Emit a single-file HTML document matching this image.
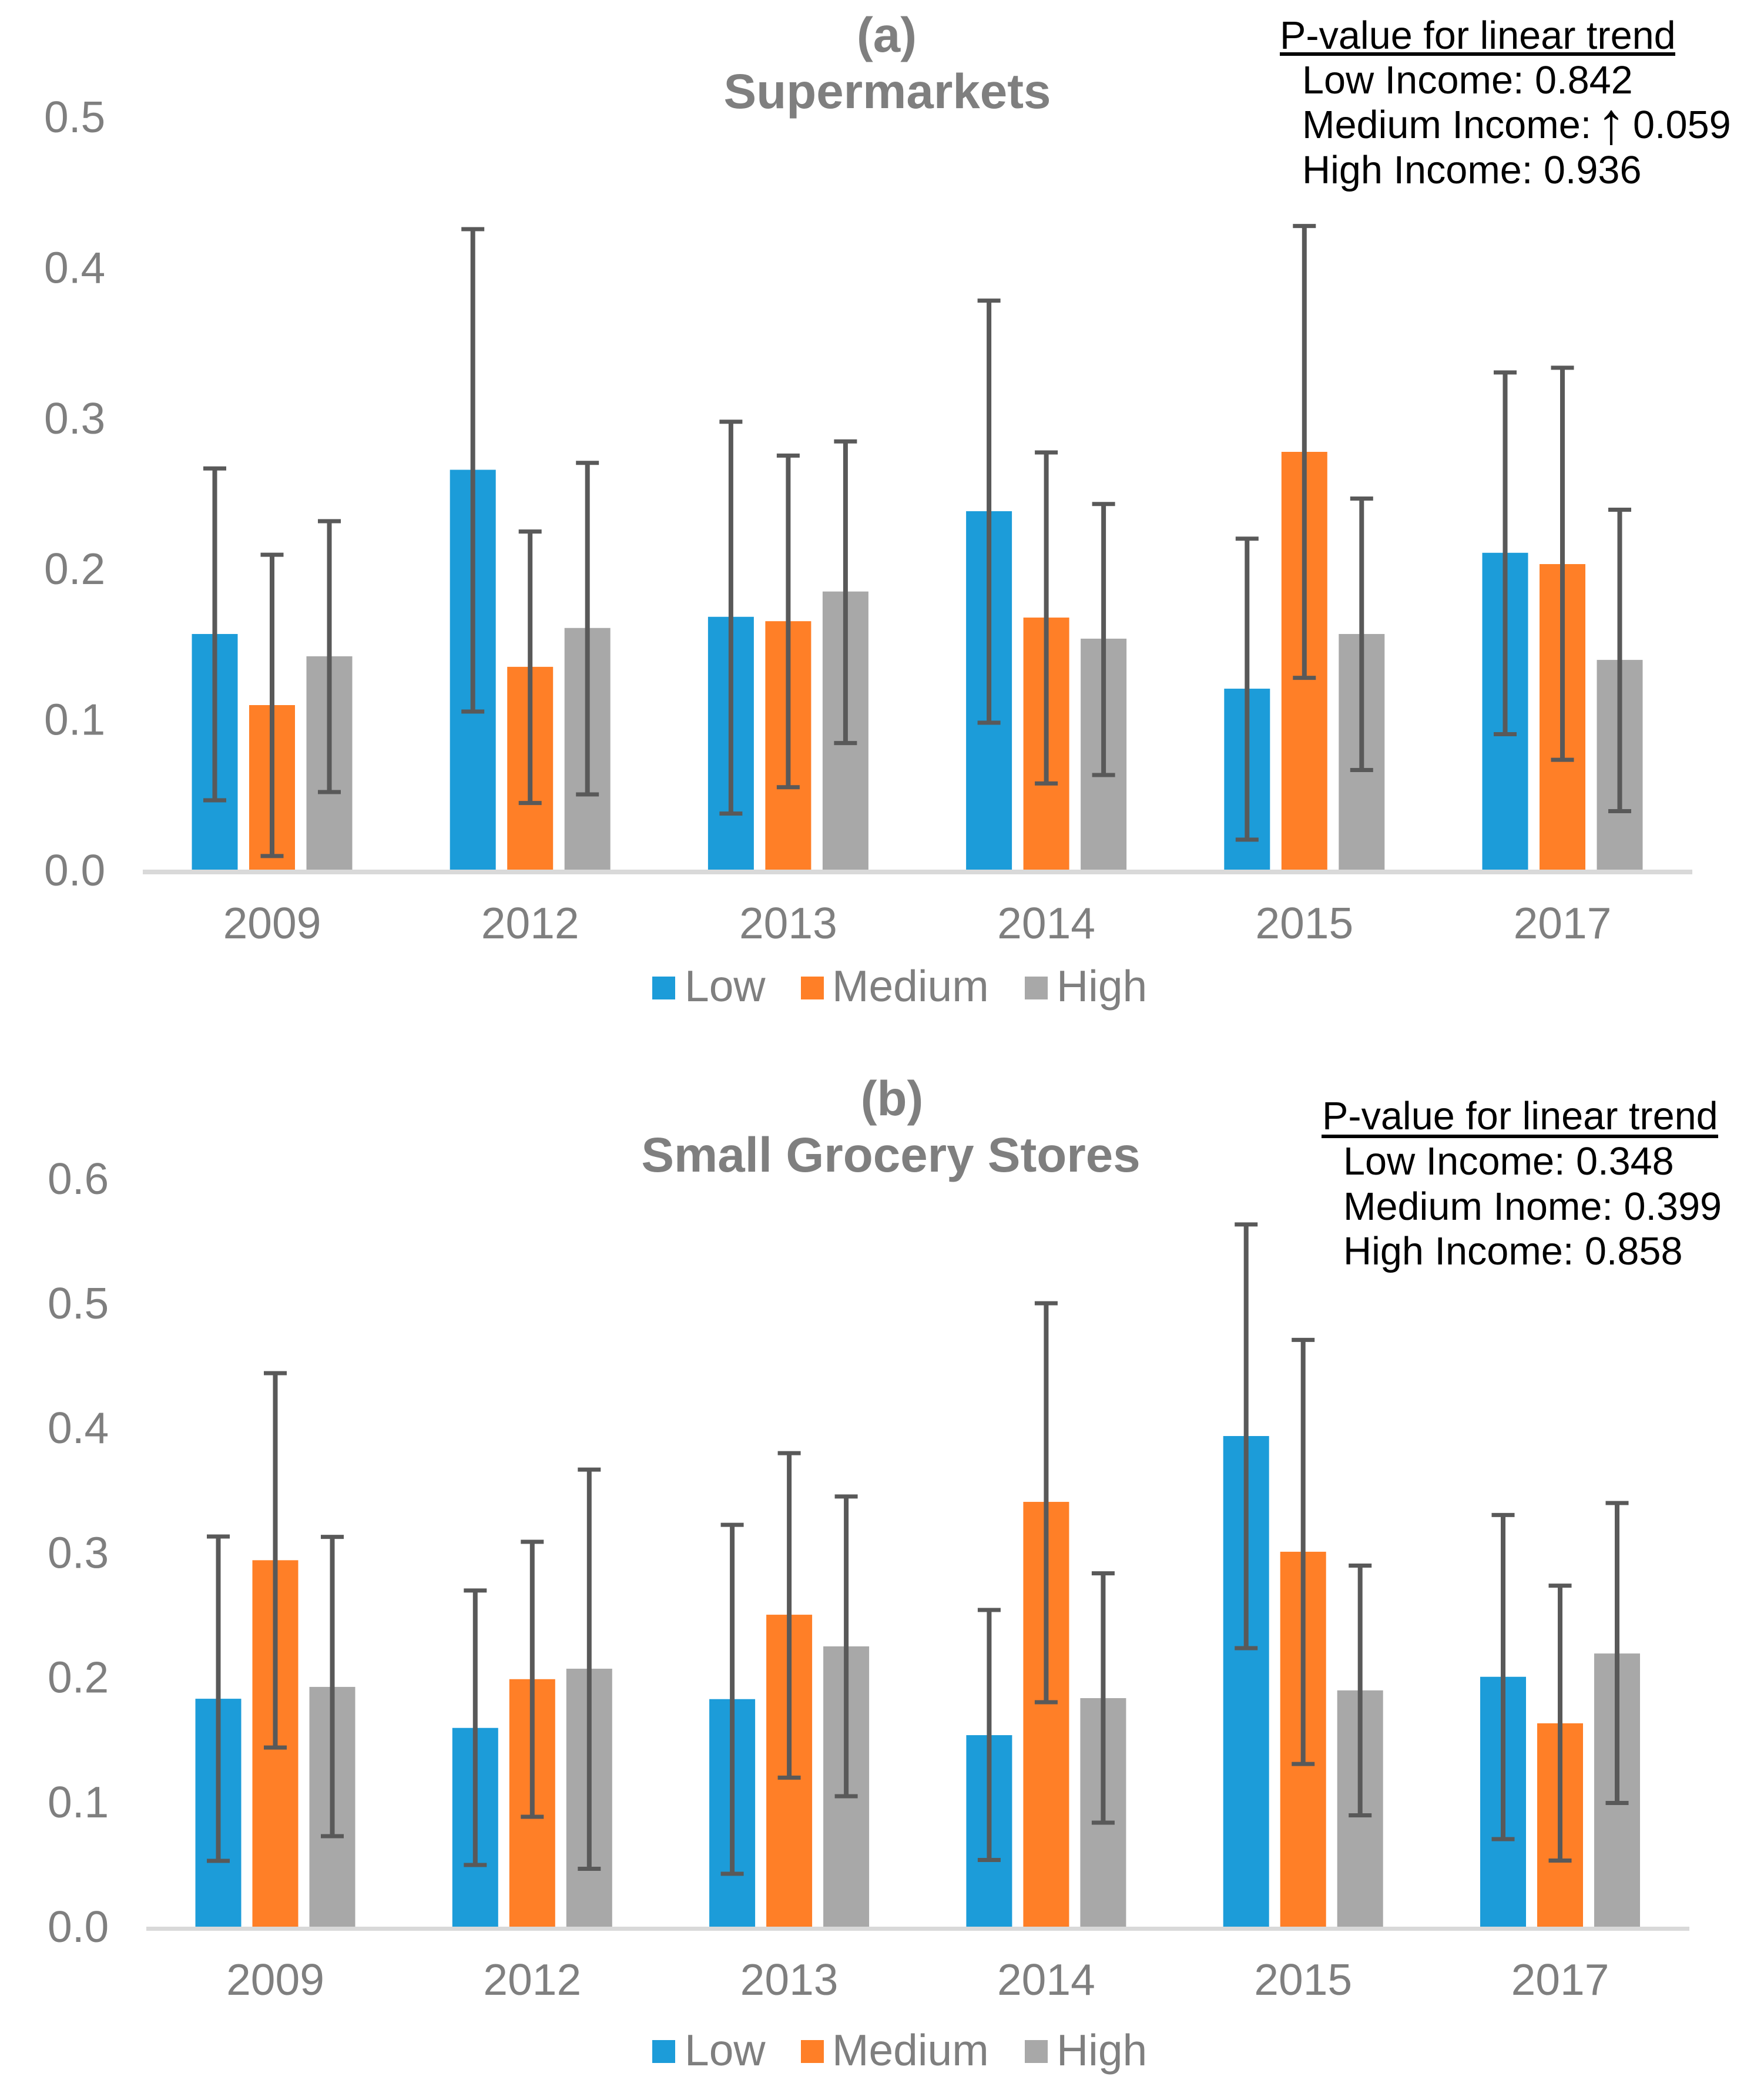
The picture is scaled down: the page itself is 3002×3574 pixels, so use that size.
<!DOCTYPE html>
<html lang="en">
<head>
<meta charset="utf-8">
<title>Supermarkets and Small Grocery Stores by income</title>
<style>
html,body{margin:0;padding:0;background:#fff;}
svg{display:block;font-family:"Liberation Sans",Arial,sans-serif;}
.tick{font-size:75px;fill:#7f7f7f;}
.title{font-size:83.5px;font-weight:bold;fill:#7f7f7f;text-anchor:middle;}
.note{font-size:66.6px;fill:#000;}
</style>
</head>
<body>
<svg id="figure" xmlns="http://www.w3.org/2000/svg" width="3002" height="3574" viewBox="0 0 3002 3574">
  <rect x="0" y="0" width="3002" height="3574" fill="#fff"/>

  <g id="panel-a">
    <text class="title" x="1509" y="88">(a)</text>
    <text class="title" x="1510" y="184">Supermarkets</text>
    <g>
      <text class="note" x="2178" y="83">P-value for linear trend</text>
      <rect x="2178" y="89" width="673" height="6" fill="#000"/>
      <text class="note" x="2216" y="159">Low Income: 0.842</text>
      <text class="note" x="2216" y="235">Medium Income:</text>
      <text class="note" x="2742" y="244" text-anchor="middle" style="font-size:100px">↑</text>
      <text class="note" x="2779" y="235">0.059</text>
      <text class="note" x="2216" y="312">High Income: 0.936</text>
    </g>
    <g>
      <rect x="1110" y="1662" width="39" height="39" fill="#1c9cd9"/>
      <text class="tick" x="1165" y="1704">Low</text>
      <rect x="1363" y="1662" width="39" height="39" fill="#ff7f27"/>
      <text class="tick" x="1416" y="1704">Medium</text>
      <rect x="1744" y="1662" width="39" height="39" fill="#a8a8a8"/>
      <text class="tick" x="1798" y="1704">High</text>
    </g>
  </g>

  <g id="panel-b">
    <text class="title" x="1518" y="1898">(b)</text>
    <text class="title" x="1516" y="1994">Small Grocery Stores</text>
    <g>
      <text class="note" x="2250" y="1922">P-value for linear trend</text>
      <rect x="2249" y="1931" width="675" height="6" fill="#000"/>
      <text class="note" x="2286" y="1999">Low Income: 0.348</text>
      <text class="note" x="2286" y="2076">Medium Inome: 0.399</text>
      <text class="note" x="2286" y="2152">High Income: 0.858</text>
    </g>
    <g>
      <rect x="1110" y="3472" width="39" height="39" fill="#1c9cd9"/>
      <text class="tick" x="1165" y="3515">Low</text>
      <rect x="1363" y="3472" width="39" height="39" fill="#ff7f27"/>
      <text class="tick" x="1416" y="3515">Medium</text>
      <rect x="1744" y="3472" width="39" height="39" fill="#a8a8a8"/>
      <text class="tick" x="1798" y="3515">High</text>
    </g>
  </g>
</svg>

<script>
var categories = ["2009", "2012", "2013", "2014", "2015", "2017"];
var seriesNames = ["low", "medium", "high"];

var supermarketTicks = ["0.0", "0.1", "0.2", "0.3", "0.4", "0.5"];
var supermarketLow = [0.1564, 0.2654, 0.1678, 0.2379, 0.1201, 0.2103];
var supermarketMedium = [0.1092, 0.1346, 0.1649, 0.1673, 0.2773, 0.2028];
var supermarketHigh = [0.1416, 0.1604, 0.1846, 0.1533, 0.1564, 0.1392];
var supermarketLowUpper = [0.2663, 0.4251, 0.2973, 0.3777, 0.2197, 0.3300];
var supermarketLowLower = [0.0460, 0.1049, 0.0372, 0.0975, 0.0199, 0.0899];
var supermarketMediumUpper = [0.2090, 0.2244, 0.2748, 0.2769, 0.4272, 0.3331];
var supermarketMediumLower = [0.0090, 0.0442, 0.0547, 0.0572, 0.1273, 0.0729];
var supermarketHighUpper = [0.2313, 0.2700, 0.2842, 0.2427, 0.2463, 0.2389];
var supermarketHighLower = [0.0515, 0.0499, 0.0840, 0.0628, 0.0661, 0.0388];

var groceryTicks = ["0.0", "0.1", "0.2", "0.3", "0.4", "0.5", "0.6"];
var groceryLow = [0.1828, 0.1594, 0.1825, 0.1536, 0.3935, 0.2004];
var groceryMedium = [0.2939, 0.1985, 0.2502, 0.3407, 0.3007, 0.1631];
var groceryHigh = [0.1923, 0.2069, 0.2248, 0.1833, 0.1895, 0.2191];
var groceryLowUpper = [0.3129, 0.2696, 0.3223, 0.2540, 0.5632, 0.3302];
var groceryLowLower = [0.0528, 0.0495, 0.0424, 0.0535, 0.2234, 0.0702];
var groceryMediumUpper = [0.4439, 0.3087, 0.3798, 0.5000, 0.4706, 0.2735];
var groceryMediumLower = [0.1437, 0.0881, 0.1195, 0.1800, 0.1305, 0.0530];
var groceryHighUpper = [0.3126, 0.3666, 0.3450, 0.2834, 0.2896, 0.3398];
var groceryHighLower = [0.0726, 0.0464, 0.1046, 0.0834, 0.0893, 0.0992];

var SVG_NS = "http://www.w3.org/2000/svg";
var seriesColors = {low: "#1c9cd9", medium: "#ff7f27", high: "#a8a8a8"};

function make(tag, attrs, parent) {
  var el = document.createElementNS(SVG_NS, tag);
  for (var k in attrs) { el.setAttribute(k, attrs[k]); }
  parent.appendChild(el);
  return el;
}

function drawPanel(parent, prefix, cfg, ticks, values, uppers, lowers) {
  function xScale(i) { return cfg.groupStart + cfg.groupStep * i; }
  function yScale(v) { return cfg.baseline - cfg.unit * v; }

  var tickGroup = make("g", {}, parent);
  
  
  ticks.forEach(function (label) {
    var t = make("text", {"class": "tick", x: cfg.tickX, y: yScale(parseFloat(label)) + cfg.tickShift}, tickGroup);
    t.textContent = label;
    
    
  });

  seriesNames.forEach(function (name, s) {
    var seriesGroup = make("g", {}, parent);
    
    
    categories.forEach(function (cat, i) {
      var cx = xScale(i) + (s - 1) * cfg.barOffset;
      var top = yScale(values[s][i]);
      var bar = make("rect", {x: cx - cfg.barWidth / 2, y: top, width: cfg.barWidth, height: cfg.baseline - top, fill: seriesColors[name]}, seriesGroup);
      
      
    });
  });

  var axis = make("rect", {x: cfg.axisStart, y: cfg.baseline, width: cfg.axisEnd - cfg.axisStart, height: cfg.axisThickness, fill: "#d9d9d9"}, parent);
  
  

  seriesNames.forEach(function (name, s) {
    var errGroup = make("g", {}, parent);
    
    
    categories.forEach(function (cat, i) {
      var cx = xScale(i) + (s - 1) * cfg.barOffset;
      var yHi = yScale(uppers[s][i]);
      var yLo = yScale(lowers[s][i]);
      var stem = make("path", {d: "M" + cx + " " + yHi + "V" + yLo, stroke: "#595959", "stroke-width": 8, fill: "none"}, errGroup);
      
      
      [yHi, yLo].forEach(function (capY) {
        var cap = make("path", {d: "M" + (cx - 19.5) + " " + capY + "H" + (cx + 19.5), stroke: "#595959", "stroke-width": 7, fill: "none"}, errGroup);
        
        
      });
    });
  });

  var catGroup = make("g", {}, parent);
  
  
  categories.forEach(function (cat, i) {
    var t = make("text", {"class": "tick", x: xScale(i), y: cfg.catY, "text-anchor": "middle"}, catGroup);
    t.textContent = cat;
    
    
  });
}

drawPanel(document.getElementById("panel-a"), "panel-a", {
  baseline: 1480, unit: 2564, groupStart: 463, groupStep: 439.2,
  barOffset: 97.5, barWidth: 78, axisStart: 243, axisEnd: 2880, axisThickness: 8,
  tickX: 75, tickShift: 27, catY: 1597
}, supermarketTicks,
  [supermarketLow, supermarketMedium, supermarketHigh],
  [supermarketLowUpper, supermarketMediumUpper, supermarketHighUpper],
  [supermarketLowLower, supermarketMediumLower, supermarketHighLower]);

drawPanel(document.getElementById("panel-b"), "panel-b", {
  baseline: 3279, unit: 2122, groupStart: 468.5, groupStep: 437.3,
  barOffset: 97, barWidth: 78, axisStart: 249, axisEnd: 2875, axisThickness: 7,
  tickX: 81, tickShift: 26, catY: 3395
}, groceryTicks,
  [groceryLow, groceryMedium, groceryHigh],
  [groceryLowUpper, groceryMediumUpper, groceryHighUpper],
  [groceryLowLower, groceryMediumLower, groceryHighLower]);
</script>
</body>
</html>
